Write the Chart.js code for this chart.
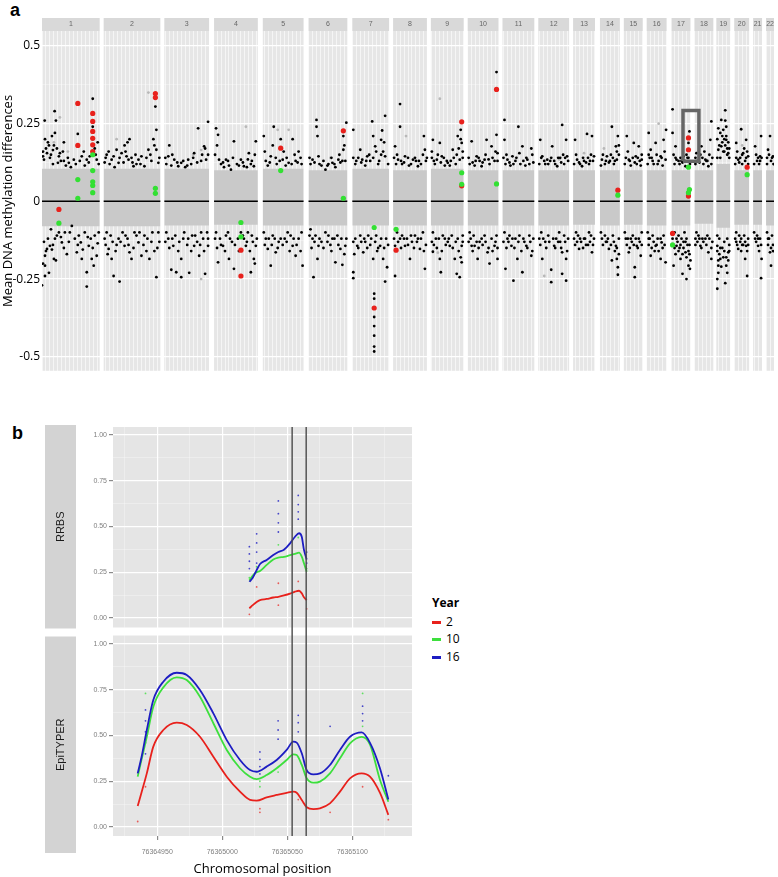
<!DOCTYPE html>
<html>
<head>
<meta charset="utf-8">
<script src="https://cdn.jsdelivr.net/npm/chart.js@4.4.1/dist/chart.umd.min.js"></script>
<style>
  html, body { margin: 0; padding: 0; background: #fff; }
  body { width: 778px; height: 877px; position: relative; overflow: hidden; font-family: "Open Sans", sans-serif; }
  canvas { position: absolute; left: 0; }
  #chartA { top: 0; }
  #chartB { top: 400px; }
  .letter { position: absolute; font: bold 18px "Liberation Sans", Arial, sans-serif; line-height: 18px; }
  #legend { position: absolute; left: 432px; top: 594px; font-size: 12px; line-height: 17.5px; color: #000; }
  #legend .title { font-weight: bold; margin-bottom: 1px; }
  #legend .key { display: inline-block; width: 9px; height: 3px; vertical-align: middle; margin-right: 5px; }
</style>
</head>
<body>
<div class="letter" style="left:10px;top:1px;">a</div>
<div class="letter" style="left:12px;top:424px;">b</div>
<canvas id="chartA" width="778" height="380"></canvas>
<canvas id="chartB" width="420" height="477"></canvas>
<div id="legend">
  <div class="title">Year</div>
  <div><span class="key" style="background:#e8211c"></span>2</div>
  <div><span class="key" style="background:#3ddf3d"></span>10</div>
  <div><span class="key" style="background:#1d1dc2"></span>16</div>
</div>
<script>
// ---------- Panel a data ----------
const chrNames = ['1','2','3','4','5','6','7','8','9','10','11','12','13','14','15','16','17','18','19','20','21','22'];
const chrStart = [0, 62, 123, 173, 222, 268, 312, 353, 391, 428, 463, 499, 534, 561, 585, 608, 633, 656, 678, 696, 715, 728];
const chrEnd   = [58, 119, 168, 217, 263, 307, 349, 387, 424, 459, 495, 530, 556, 581, 604, 628, 652, 675, 692, 711, 724, 736];
// dense cloud of non-significant probes (upper / lower edge)
const cloudHi = [0.105, 0.105, 0.105, 0.1, 0.105, 0.1, 0.105, 0.1, 0.105, 0.1, 0.1, 0.1, 0.1, 0.1, 0.1, 0.1, 0.1, 0.1, 0.12, 0.1, 0.1, 0.1];
const cloudLo = [-0.08, -0.08, -0.078, -0.075, -0.078, -0.078, -0.078, -0.078, -0.078, -0.078, -0.078, -0.078, -0.075, -0.078, -0.075, -0.078, -0.078, -0.072, -0.085, -0.075, -0.075, -0.078];

const blackPts = [
  // chr1
  [2.7,0.26],[12.7,0.29],[14,0.26],[3,0.2],[7,0.18],[10,0.21],[13,0.22],[12,0.18],[15,0.17],[5,0.155],[2,0.134],[8,0.14],[18,0.155],[22,0.19],[22,0.13],[27,0.124],[36,0.217],[40,0.145],[45,0.134],[51,0.33],[51,0.24],[51,0.2],[53,0.17],[55,0.134],[48,0.145],[32,0.134],[16,0.124],
  [4,0.17],[9,0.15],[19,0.13],[11,0.12],[24,0.115],[29,0.11],[34,0.12],[43,0.115],[57,0.12],[1,0.145],
  [1,0.16],[6,0.19],[11,0.165],[17,0.145],[21,0.16],[26,0.14],[38,0.13],[42,0.16],[47,0.125],[54,0.15],[56,0.19],
  [0,-0.27],[3,-0.24],[7,-0.23],[3,-0.207],[3,-0.175],[5,-0.153],[8,-0.143],[12,-0.185],[13,-0.12],[17,-0.1],[20,-0.132],[25,-0.17],[23,-0.1],[35,-0.164],[37,-0.11],[40,-0.185],[39,-0.132],[45,-0.228],[45,-0.274],[47,-0.143],[50,-0.185],[53,-0.11],[55,-0.175],[52,-0.207],[30,-0.079],[9,-0.09],
  [1,-0.2],[6,-0.12],[10,-0.155],[15,-0.11],[28,-0.1],[33,-0.12],[43,-0.1],[49,-0.12],[57,-0.1],[2,-0.13],
  [4,-0.16],[11,-0.14],[14,-0.19],[19,-0.115],[22,-0.15],[27,-0.13],[36,-0.14],[41,-0.155],[46,-0.115],[51,-0.15],[56,-0.135],
  // chr2
  [65,0.15],[70,0.134],[75,0.166],[80,0.155],[83,0.18],[88,0.2],[87,0.134],[92,0.113],[97,0.134],[100,0.145],[107,0.166],[112,0.2],[114,0.305],[115,0.23],[115,0.166],[117,0.124],[77,0.124],[85,0.145],[103,0.113],
  [68,0.12],[73,0.11],[82,0.125],[90,0.14],[95,0.12],[110,0.13],[63,0.125],[118,0.14],
  [64,0.14],[67,0.16],[72,0.145],[78,0.14],[84,0.16],[86,0.19],[91,0.125],[94,0.15],[99,0.12],[105,0.14],[109,0.15],[113,0.18],
  [65,-0.1],[67,-0.153],[70,-0.185],[72,-0.24],[78,-0.258],[77,-0.12],[83,-0.143],[88,-0.164],[93,-0.1],[97,-0.132],[100,-0.175],[103,-0.11],[108,-0.185],[113,-0.16],[115,-0.244],[117,-0.1],[90,-0.185],
  [63,-0.12],[69,-0.11],[75,-0.14],[81,-0.1],[86,-0.12],[95,-0.11],[106,-0.12],[111,-0.1],[118,-0.13],
  [64,-0.14],[66,-0.17],[71,-0.13],[74,-0.16],[79,-0.13],[84,-0.11],[87,-0.14],[92,-0.15],[98,-0.1],[102,-0.14],[105,-0.16],[110,-0.13],[116,-0.15],
  // chr3
  [128,0.18],[127,0.145],[133,0.134],[140,0.124],[147,0.134],[153,0.155],[157,0.235],[163,0.177],[167,0.256],[165,0.134],[137,0.113],
  [125,0.12],[130,0.115],[144,0.11],[150,0.12],[160,0.13],[167,0.15],
  [124,0.14],[131,0.15],[136,0.125],[142,0.13],[146,0.115],[152,0.14],[156,0.125],[161,0.15],[164,0.17],
  [125,-0.1],[130,-0.22],[135,-0.228],[140,-0.185],[140,-0.244],[148,-0.23],[147,-0.12],[153,-0.143],[158,-0.175],[164,-0.233],[167,-0.143],[132,-0.143],[160,-0.1],
  [127,-0.12],[134,-0.11],[138,-0.13],[143,-0.1],[151,-0.11],[156,-0.13],[162,-0.12],[166,-0.1],
  [124,-0.13],[128,-0.15],[131,-0.12],[137,-0.16],[142,-0.12],[146,-0.14],[150,-0.16],[154,-0.11],[159,-0.14],[163,-0.16],[167,-0.12],
  // chr4
  [175,0.235],[177,0.214],[178,0.134],[185,0.134],[193,0.193],[200,0.134],[203,0.113],[208,0.155],[215,0.193],[213,0.113],[190,0.102],
  [180,0.12],[188,0.115],[196,0.12],[206,0.11],[211,0.13],[183,0.11],
  [174,0.15],[176,0.18],[182,0.125],[187,0.13],[192,0.14],[198,0.115],[202,0.125],[207,0.135],[210,0.12],[214,0.15],
  [175,-0.1],[177,-0.196],[182,-0.143],[188,-0.185],[193,-0.217],[197,-0.12],[205,-0.143],[210,-0.228],[213,-0.185],[215,-0.143],[187,-0.1],[207,-0.1],
  [179,-0.12],[185,-0.11],[191,-0.13],[200,-0.1],[203,-0.12],[211,-0.11],[216,-0.12],
  [174,-0.12],[176,-0.15],[180,-0.14],[184,-0.16],[189,-0.12],[194,-0.14],[198,-0.16],[202,-0.11],[206,-0.13],[209,-0.16],[212,-0.13],[214,-0.2],
  // chr5
  [223,0.21],[233,0.24],[240,0.2],[230,0.145],[252,0.2],[258,0.16],[248,0.124],[242,0.134],
  [225,0.13],[236,0.12],[245,0.115],[255,0.13],[261,0.12],[227,0.115],
  [224,0.16],[229,0.125],[232,0.18],[235,0.14],[239,0.13],[243,0.16],[246,0.14],[251,0.12],[254,0.15],[257,0.125],[260,0.14],
  [223,-0.1],[227,-0.153],[230,-0.207],[235,-0.164],[240,-0.12],[252,-0.143],[255,-0.175],[262,-0.207],[247,-0.1],
  [225,-0.12],[232,-0.11],[238,-0.13],[244,-0.12],[250,-0.11],[258,-0.12],[261,-0.1],
  [224,-0.14],[228,-0.12],[231,-0.14],[234,-0.12],[237,-0.15],[242,-0.14],[246,-0.13],[249,-0.16],[253,-0.12],[256,-0.14],[260,-0.16],
  // chr6
  [276,0.262],[276,0.24],[277,0.21],[278,0.145],[272,0.134],[285,0.102],[292,0.124],[298,0.134],[303,0.21],[306,0.253],[303,0.166],
  [270,0.12],[281,0.115],[288,0.12],[295,0.11],[300,0.125],[305,0.13],
  [269,0.14],[274,0.125],[279,0.12],[283,0.13],[287,0.115],[291,0.14],[294,0.12],[299,0.15],[302,0.13],[304,0.18],
  [270,-0.09],[273,-0.244],[277,-0.185],[278,-0.143],[285,-0.1],[292,-0.12],[295,-0.196],[300,-0.153],[302,-0.204],[305,-0.143],
  [272,-0.12],[275,-0.11],[281,-0.13],[288,-0.11],[290,-0.14],[297,-0.11],[306,-0.12],
  [269,-0.11],[271,-0.15],[274,-0.13],[279,-0.12],[283,-0.15],[287,-0.13],[291,-0.16],[294,-0.12],[298,-0.14],[301,-0.12],[304,-0.17],
  // chr7
  [313,0.23],[320,0.166],[327,0.145],[332,0.257],[333,0.21],[335,0.177],[341,0.198],[342,0.228],[345,0.275],[345,0.145],[322,0.134],
  [315,0.12],[318,0.14],[325,0.115],[330,0.13],[338,0.12],[343,0.16],[348,0.12],
  [313,0.14],[316,0.13],[321,0.125],[326,0.13],[329,0.15],[333,0.14],[336,0.16],[339,0.13],[341,0.15],[344,0.19],
  [313,-0.228],[313,-0.247],[317,-0.143],[323,-0.164],[328,-0.11],[333,-0.185],[340,-0.143],[343,-0.185],[345,-0.258],[347,-0.212],
  [334,-0.297],[334,-0.313],[334,-0.372],[334,-0.401],[334,-0.432],[334,-0.467],[334,-0.483],
  [315,-0.12],[320,-0.11],[325,-0.13],[331,-0.12],[336,-0.11],[338,-0.15],[346,-0.12],
  [313,-0.13],[314,-0.17],[318,-0.15],[321,-0.13],[324,-0.12],[327,-0.15],[330,-0.14],[335,-0.13],[337,-0.16],[341,-0.12],[344,-0.15],[348,-0.14],
  // chr8
  [360,0.313],[360,0.24],[358,0.134],[355,0.177],[365,0.145],[373,0.134],[378,0.113],[384,0.21],[385,0.166],
  [356,0.12],[362,0.12],[369,0.115],[376,0.13],[381,0.12],[386,0.13],
  [354,0.14],[357,0.15],[361,0.13],[364,0.125],[368,0.14],[371,0.12],[375,0.14],[379,0.13],[383,0.15],[387,0.14],
  [355,-0.143],[355,-0.24],[360,-0.12],[365,-0.143],[370,-0.185],[375,-0.11],[380,-0.153],[385,-0.217],[383,-0.1],
  [357,-0.1],[362,-0.11],[367,-0.12],[372,-0.13],[378,-0.12],[386,-0.14],
  [354,-0.12],[358,-0.13],[361,-0.15],[364,-0.12],[368,-0.14],[371,-0.11],[374,-0.15],[377,-0.13],[381,-0.12],[384,-0.16],
  // chr9
  [393,0.198],[397,0.134],[400,0.188],[402,0.145],[408,0.124],[413,0.166],[418,0.21],[421,0.23],[422,0.188],[420,0.134],
  [395,0.12],[405,0.115],[411,0.13],[416,0.12],[423,0.16],[392,0.14],
  [392,0.16],[394,0.13],[398,0.15],[401,0.125],[404,0.14],[407,0.13],[410,0.115],[414,0.14],[417,0.15],[419,0.17],[421,0.2],[423,0.14],
  [393,-0.1],[393,-0.162],[400,-0.185],[401,-0.228],[405,-0.12],[410,-0.143],[415,-0.185],[417,-0.233],[420,-0.244],[422,-0.143],[422,-0.196],
  [396,-0.12],[403,-0.11],[408,-0.13],[412,-0.11],[418,-0.12],[423,-0.11],
  [392,-0.13],[394,-0.14],[397,-0.15],[399,-0.12],[402,-0.16],[406,-0.14],[409,-0.12],[413,-0.15],[416,-0.13],[419,-0.16],[421,-0.18],[423,-0.13],
  // chr10
  [432,0.193],[437,0.145],[442,0.113],[447,0.198],[452,0.177],[457,0.416],[457,0.214],[458,0.155],[445,0.134],
  [430,0.12],[435,0.115],[440,0.13],[450,0.12],[455,0.13],
  [429,0.14],[433,0.125],[436,0.13],[439,0.14],[443,0.125],[446,0.15],[449,0.135],[453,0.14],[456,0.16],[458,0.13],
  [430,-0.1],[432,-0.143],[438,-0.185],[442,-0.12],[448,-0.164],[450,-0.2],[455,-0.143],[458,-0.185],[435,-0.143],
  [434,-0.11],[440,-0.13],[445,-0.11],[452,-0.12],[457,-0.11],
  [429,-0.13],[431,-0.12],[433,-0.16],[437,-0.13],[439,-0.15],[443,-0.14],[446,-0.13],[449,-0.15],[453,-0.16],[456,-0.13],[458,-0.15],
  // chr11
  [465,0.262],[465,0.198],[468,0.134],[473,0.145],[479,0.24],[483,0.177],[488,0.134],[492,0.17],
  [466,0.12],[471,0.115],[476,0.13],[481,0.12],[486,0.115],[494,0.125],
  [464,0.14],[467,0.15],[470,0.125],[474,0.12],[477,0.14],[480,0.155],[484,0.13],[487,0.14],[490,0.12],[493,0.15],
  [465,-0.1],[466,-0.217],[472,-0.143],[474,-0.255],[478,-0.185],[483,-0.228],[487,-0.143],[492,-0.175],
  [468,-0.12],[470,-0.11],[476,-0.12],[480,-0.11],[485,-0.13],[490,-0.11],[494,-0.12],
  [464,-0.13],[467,-0.15],[469,-0.13],[473,-0.12],[475,-0.15],[479,-0.13],[482,-0.16],[484,-0.12],[488,-0.15],[491,-0.13],[493,-0.16],
  // chr12
  [501,0.198],[503,0.145],[508,0.134],[513,0.177],[518,0.113],[523,0.246],[527,0.198],[528,0.145],
  [500,0.12],[506,0.12],[511,0.13],[516,0.12],[521,0.14],[525,0.12],[529,0.13],
  [502,0.14],[505,0.13],[509,0.12],[512,0.14],[515,0.13],[519,0.14],[522,0.125],[524,0.15],[526,0.14],
  [500,-0.12],[503,-0.185],[512,-0.22],[512,-0.26],[515,-0.143],[520,-0.1],[523,-0.164],[523,-0.233],[527,-0.255],[527,-0.185],
  [502,-0.1],[506,-0.13],[509,-0.11],[517,-0.12],[521,-0.13],[525,-0.11],[529,-0.12],
  [501,-0.14],[504,-0.12],[507,-0.15],[510,-0.13],[514,-0.12],[516,-0.15],[519,-0.13],[522,-0.15],[526,-0.13],[528,-0.16],
  // chr13
  [536,0.198],[538,0.134],[543,0.113],[548,0.217],[553,0.21],[555,0.145],
  [535,0.12],[540,0.125],[545,0.13],[550,0.12],[552,0.15],
  [537,0.15],[541,0.12],[544,0.14],[547,0.125],[549,0.14],[551,0.13],[554,0.13],
  [537,-0.1],[540,-0.153],[545,-0.12],[550,-0.1],[553,-0.164],[555,-0.12],
  [535,-0.12],[539,-0.11],[542,-0.13],[547,-0.14],[552,-0.11],
  [536,-0.14],[538,-0.13],[541,-0.12],[544,-0.15],[546,-0.12],[549,-0.14],[551,-0.13],[554,-0.14],
  // chr14
  [563,0.134],[568,0.145],[573,0.24],[577,0.177],[579,0.21],[578,0.134],
  [562,0.115],[566,0.12],[571,0.13],[575,0.12],[580,0.15],
  [564,0.15],[567,0.13],[570,0.125],[572,0.15],[574,0.14],[576,0.13],[578,0.16],[580,0.18],
  [563,-0.12],[570,-0.153],[573,-0.19],[578,-0.185],[579,-0.212],[579,-0.236],[577,-0.143],
  [562,-0.1],[566,-0.11],[568,-0.13],[574,-0.11],[580,-0.12],
  [564,-0.14],[567,-0.13],[569,-0.12],[572,-0.14],[575,-0.13],[576,-0.16],[578,-0.15],[580,-0.17],
  // chr15
  [588,0.21],[590,0.134],[595,0.188],[597,0.145],[600,0.177],[603,0.134],
  [586,0.12],[592,0.115],[598,0.12],[602,0.115],
  [587,0.14],[589,0.16],[591,0.13],[594,0.14],[596,0.125],[599,0.14],[601,0.13],[603,0.15],
  [587,-0.12],[590,-0.164],[596,-0.212],[596,-0.244],[598,-0.143],[602,-0.175],
  [586,-0.1],[592,-0.12],[594,-0.11],[600,-0.12],[603,-0.1],
  [588,-0.14],[589,-0.12],[591,-0.15],[593,-0.13],[595,-0.14],[597,-0.12],[599,-0.15],[601,-0.13],[603,-0.14],
  // chr16
  [610,0.22],[612,0.166],[617,0.188],[622,0.145],[625,0.198],[627.5,0.23],[627,0.134],
  [609,0.12],[614,0.13],[619,0.12],[624,0.115],[611,0.14],
  [610,0.15],[613,0.14],[615,0.12],[618,0.15],[620,0.13],[623,0.14],[626,0.16],
  [610,-0.12],[612,-0.175],[617,-0.143],[622,-0.185],[623,-0.132],[627,-0.196],
  [609,-0.1],[614,-0.11],[619,-0.12],[625,-0.11],[616,-0.16],
  [610,-0.14],[611,-0.12],[613,-0.15],[615,-0.13],[618,-0.14],[620,-0.16],[622,-0.12],[624,-0.15],[626,-0.14],
  // chr17
  [634,0.296],[634,0.22],[637,0.177],[638,0.134],[645,0.145],[651,0.225],[650,0.188],[647,0.113],
  [636,0.12],[641,0.12],[643,0.13],[649,0.14],[651.5,0.12],
  [635,0.15],[637,0.14],[640,0.13],[642,0.14],[644,0.125],[646,0.13],[648,0.15],[650,0.14],
  [635,-0.207],[638,-0.143],[642,-0.185],[644,-0.233],[647,-0.164],[648,-0.25],[650,-0.207],[651.5,-0.217],[643,-0.12],[648,-0.12],
  [636,-0.1],[640,-0.11],[641,-0.15],[645,-0.13],[646,-0.1],[649,-0.14],[651,-0.17],[639,-0.13],
  [634,-0.12],[636,-0.15],[637,-0.17],[638,-0.12],[640,-0.16],[642,-0.14],[644,-0.17],[645,-0.15],[647,-0.13],[648,-0.18],[650,-0.16],[651,-0.14],[652,-0.19],
  // chr18
  [658,0.155],[663,0.177],[667,0.134],[673,0.257],[672,0.198],[670,0.113],
  [657,0.12],[661,0.125],[665,0.12],[669,0.13],[674,0.14],
  [657,0.14],[659,0.13],[662,0.15],[664,0.14],[666,0.16],[668,0.13],[671,0.15],[673,0.12],
  [658,-0.1],[662,-0.143],[667,-0.12],[670,-0.164],[673,-0.185],
  [657,-0.12],[660,-0.11],[664,-0.12],[669,-0.11],[674,-0.13],
  [657,-0.14],[659,-0.13],[661,-0.12],[663,-0.15],[665,-0.13],[668,-0.14],[671,-0.12],[673,-0.15],
  // chr19
  [680,0.235],[683,0.262],[687,0.293],[688,0.24],[688,0.198],[683,0.177],[690,0.155],[680,0.166],
  [679,0.14],[682,0.14],[685,0.16],[686,0.2],[689,0.17],[691,0.14],[684,0.21],[687,0.26],
  [679,0.2],[681,0.18],[682,0.22],[684,0.19],[685,0.23],[687,0.18],[688,0.21],[689,0.15],[690,0.19],[691,0.17],[686,0.16],
  [679,-0.143],[680,-0.207],[679,-0.25],[679,-0.281],[682,-0.185],[687,-0.263],[688,-0.207],[690,-0.164],
  [679,-0.11],[681,-0.12],[684,-0.15],[686,-0.13],[689,-0.12],[691,-0.14],[680,-0.23],
  [679,-0.16],[680,-0.19],[681,-0.17],[682,-0.15],[683,-0.21],[685,-0.18],[686,-0.16],[688,-0.18],[689,-0.23],[690,-0.19],[691,-0.16],
  // chr20
  [698,0.188],[700,0.134],[703,0.232],[705,0.155],[708,0.198],[710,0.145],
  [697,0.12],[701,0.125],[704,0.12],[707,0.13],[710,0.12],
  [698,0.14],[699,0.16],[702,0.14],[704,0.15],[706,0.17],[708,0.14],[709,0.16],
  [698,-0.1],[700,-0.153],[703,-0.12],[707,-0.185],[709,-0.24],[708,-0.143],
  [697,-0.12],[701,-0.11],[704,-0.14],[706,-0.11],[710,-0.12],
  [698,-0.13],[699,-0.14],[702,-0.13],[703,-0.16],[705,-0.14],[707,-0.13],[709,-0.16],[710,-0.14],
  // chr21
  [717,0.177],[723,0.21],[722,0.145],[716,0.12],[719,0.13],[721,0.12],[723.5,0.14],[718,0.15],[720,0.14],[722,0.13],
  [717,-0.12],[720,-0.143],[723,-0.247],[723.5,-0.185],[716,-0.1],[719,-0.11],[722,-0.12],[718,-0.13],[720,-0.12],[721,-0.16],[723,-0.14],
  // chr22
  [732,0.21],[730,0.166],[735,0.145],[729,0.12],[733,0.13],[735.5,0.12],[729,0.14],[731,0.15],[734,0.14],
  [730,-0.12],[732,-0.164],[733,-0.207],[729,-0.1],[734,-0.11],[735,-0.14],[730,-0.14],[731,-0.12],[733,-0.15],[735,-0.16]
];
const greyPts = [[18,0.27],[12,0.19],[26,0.16],[107,0.35],[75,0.2],[152,0.15],[160,0.165],[205,0.24],[237,0.23],[248,0.23],
  [290,0.14],[400,0.33],[366,0.21],[520,0.135],[545,0.155],[565,0.17],[620,0.25],[660,0.16],[704,0.18],[160,-0.25],[398,-0.165],[505,-0.24]];
const redPts = [[36,0.315],[36,0.18],[51,0.283],[51,0.257],[51,0.225],[51,0.203],[51,0.182],[51,0.16],[17,-0.026],
  [114,0.347],[114,0.334],[200,-0.157],[200,-0.24],[240,0.171],[303,0.227],[334,-0.343],[356,-0.157],
  [422,0.256],[422,0.05],[457,0.36],[579,0.036],[634,-0.103],[650,0.204],[650,0.166],[650,0.017],[709,0.11]];
const greenPts = [[51,0.15],[51,0.099],[51,0.063],[51,0.051],[51,0.028],[36,0.07],[36,0.01],[17,-0.07],
  [114,0.042],[114,0.026],[200,-0.068],[200,-0.114],[240,0.099],[303,0.01],[334,-0.084],[356,-0.09],
  [422,0.092],[422,0.055],[457,0.056],[579,0.02],[634,-0.14],[650,0.11],[651,0.038],[650,0.028],[709,0.086]];
const boxX = [644.5, 660.5];
const boxY = [0.129, 0.292];

// ---------- Panel b data ----------
const rrbsPos = [76365020.9, 76365023.5, 76365026.5, 76365029.1, 76365034.2, 76365039.3, 76365043.2, 76365047.5, 76365052.2, 76365056, 76365059.1, 76365061.2, 76365062.9, 76365065];
const rrbsY2  = [0.053, 0.07, 0.088, 0.098, 0.104, 0.112, 0.116, 0.123, 0.133, 0.144, 0.149, 0.135, 0.113, 0.098];
const rrbsY10 = [0.205, 0.232, 0.25, 0.257, 0.29, 0.32, 0.33, 0.334, 0.343, 0.35, 0.357, 0.335, 0.299, 0.253];
const rrbsY16 = [0.198, 0.22, 0.262, 0.295, 0.317, 0.344, 0.361, 0.373, 0.408, 0.444, 0.463, 0.444, 0.372, 0.32];

const epiPos = [76364935, 76364938, 76364942, 76364947, 76364954.7, 76364965, 76364972.7, 76364982.9, 76364993.2, 76365003.5,
  76365013.7, 76365021.4, 76365026.5, 76365034.2, 76365041.9, 76365049.6, 76365054.7, 76365057.3, 76365061.2, 76365065,
  76365070.1, 76365075.2, 76365082.9, 76365090.6, 76365098.3, 76365107.3, 76365113.7, 76365121.4, 76365127.8];
const epiY2  = [0.115, 0.19, 0.293, 0.439, 0.53, 0.57, 0.557, 0.493, 0.384, 0.275, 0.193, 0.148, 0.144, 0.162, 0.175, 0.187, 0.193, 0.187, 0.148, 0.108, 0.098, 0.102, 0.129, 0.193, 0.266, 0.293, 0.275, 0.186, 0.066];
const epiY10 = [0.275, 0.37, 0.493, 0.657, 0.763, 0.818, 0.803, 0.712, 0.567, 0.421, 0.321, 0.275, 0.262, 0.284, 0.321, 0.366, 0.397, 0.393, 0.339, 0.266, 0.242, 0.248, 0.293, 0.375, 0.457, 0.493, 0.45, 0.257, 0.138];
const epiY16 = [0.293, 0.384, 0.53, 0.694, 0.794, 0.843, 0.831, 0.749, 0.621, 0.475, 0.366, 0.311, 0.302, 0.33, 0.366, 0.421, 0.466, 0.461, 0.403, 0.311, 0.288, 0.293, 0.339, 0.421, 0.493, 0.517, 0.46, 0.32, 0.15];

// raw measurements [position, value]
const rrbsRaw2  = [[76365020.9,0.02],[76365026.5,0.17],[76365043.2,0.07],[76365043.2,0.19],[76365058.5,0.2],[76365065,0.05]];
const rrbsRaw10 = [[76365020.9,0.22],[76365026.5,0.28],[76365043.2,0.4],[76365058.5,0.44],[76365065,0.27]];
const rrbsRaw16 = [[76365020.9,0.27],[76365020.9,0.31],[76365020.9,0.35],[76365020.9,0.39],[76365026.5,0.3],[76365026.5,0.36],[76365026.5,0.41],[76365026.5,0.46],
  [76365043.2,0.47],[76365043.2,0.52],[76365043.2,0.57],[76365043.2,0.64],[76365058.5,0.54],[76365058.5,0.58],[76365058.5,0.62],[76365058.5,0.67],[76365065,0.3],[76365065,0.36]];
const epiRaw2  = [[76364935,0.03],[76364941,0.22],[76365029,0.08],[76365029,0.1],[76365058.5,0.15],[76365083,0.08],[76365108,0.22],[76365127.8,0.04]];
const epiRaw10 = [[76364941,0.73],[76365029,0.22],[76365029,0.25],[76365043,0.3],[76365108,0.73],[76365108,0.55]];
const epiRaw16 = [[76364941,0.4],[76364941,0.46],[76364941,0.52],[76364941,0.58],[76364941,0.64],[76365029,0.29],[76365029,0.33],[76365029,0.37],[76365029,0.41],
  [76365043,0.48],[76365043,0.53],[76365043,0.58],[76365058.5,0.52],[76365058.5,0.57],[76365058.5,0.61],[76365083,0.55],[76365108,0.58],[76365108,0.62],[76365108,0.66],[76365127.8,0.28]];
const markLines = [76365053.8, 76365064.6];

const RED = '#e8211c', GREEN = '#3ddf3d', BLUE = '#1d1dc2';

function near(v, step) { return Math.abs(v / step - Math.round(v / step)) < 1e-6; }
const toXY = arr => arr.map(p => ({x: p[0], y: p[1]}));

// ---------- Panel a ----------
const facetPlugin = {
  id: 'facets',
  beforeDraw(chart) {
    const {ctx, chartArea, scales: {x}} = chart;
    ctx.save();
    chrNames.forEach((name, i) => {
      const x0 = x.getPixelForValue(chrStart[i]);
      const x1 = x.getPixelForValue(chrEnd[i]);
      ctx.fillStyle = '#e6e6e6';
      ctx.fillRect(x0, chartArea.top, x1 - x0, chartArea.bottom - chartArea.top);
      ctx.fillStyle = '#d9d9d9';
      ctx.fillRect(x0, chartArea.top - 13, x1 - x0, 13);
      ctx.fillStyle = '#666';
      ctx.font = '7px "Liberation Sans"';
      ctx.textAlign = 'center';
      ctx.textBaseline = 'middle';
      ctx.fillText(name, (x0 + x1) / 2, chartArea.top - 6.5);
    });
    ctx.restore();
  }
};

const dsA = [];
chrNames.forEach((n, i) => {
  dsA.push({type: 'line', data: [{x: chrStart[i], y: cloudHi[i]}, {x: chrEnd[i], y: cloudHi[i]}],
    borderWidth: 0, pointRadius: 0, backgroundColor: '#c9c9c9', fill: {value: cloudLo[i]}, order: 20});
  dsA.push({type: 'line', data: [{x: chrStart[i], y: 0}, {x: chrEnd[i], y: 0}],
    borderColor: '#000', borderWidth: 1.5, pointRadius: 0, fill: false, order: 15});
});
dsA.push({data: toXY(greyPts), backgroundColor: '#b8b8b8', pointRadius: 1.4, borderWidth: 0, order: 12});
dsA.push({data: toXY(blackPts), backgroundColor: '#000', pointRadius: 1.4, borderWidth: 0, order: 10});
dsA.push({data: toXY(redPts), backgroundColor: RED, pointRadius: 2.6, borderWidth: 0, order: 6});
dsA.push({data: toXY(greenPts), backgroundColor: '#33e033', pointRadius: 2.6, borderWidth: 0, order: 5});
dsA.push({type: 'line', data: [{x: boxX[0], y: boxY[0]}, {x: boxX[1], y: boxY[0]}, {x: boxX[1], y: boxY[1]}, {x: boxX[0], y: boxY[1]}, {x: boxX[0], y: boxY[0]}],
  borderColor: '#666', borderWidth: 3.5, pointRadius: 0, fill: false, tension: 0, order: 1});

new Chart(document.getElementById('chartA'), {
  type: 'scatter',
  data: {datasets: dsA},
  plugins: [facetPlugin],
  options: {
    responsive: false, animation: false, events: [],
    layout: {padding: {top: 31, bottom: 7, left: 0, right: 0}},
    plugins: {legend: {display: false}, tooltip: {enabled: false}},
    scales: {
      x: {
        type: 'linear', min: 0, max: 736,
        ticks: {display: false, stepSize: 4},
        grid: {color: 'rgba(255,255,255,0.6)', lineWidth: 1, drawTicks: false},
        border: {display: false},
        afterFit(s) { s.height = 0; }
      },
      y: {
        type: 'linear', min: -0.545, max: 0.548,
        ticks: {
          stepSize: 0.125, autoSkip: false, includeBounds: false, color: '#000', padding: 2,
          font: {family: '"Open Sans"', size: 12},
          callback: v => near(v, 0.25) ? String(Math.abs(v) < 1e-9 ? 0 : +v.toFixed(2)) : ''
        },
        grid: {
          drawTicks: false,
          color: c => !c.tick ? 'rgba(0,0,0,0)' : near(c.tick.value, 0.25) ? '#ffffff' : near(c.tick.value, 0.125) ? 'rgba(255,255,255,0.45)' : 'rgba(0,0,0,0)',
          lineWidth: c => c.tick && near(c.tick.value, 0.25) ? 1.3 : 0.7
        },
        border: {display: false},
        title: {display: true, text: 'Mean DNA methylation differences', color: '#000', font: {family: '"Open Sans"', size: 13}, padding: 0},
        afterFit(s) { s.width = 42; }
      }
    }
  }
});

// ---------- Panel b ----------
const panelBPlugin = {
  id: 'panelB',
  beforeDraw(chart) {
    const {ctx, chartArea: a, scales: {yR, yE}} = chart;
    ctx.save();
    ctx.fillStyle = '#e5e5e5';
    ctx.fillRect(a.left, yR.top, a.right - a.left, yR.bottom - 4 - yR.top);
    ctx.fillRect(a.left, yE.top + 4, a.right - a.left, yE.bottom - yE.top - 4);
    ctx.fillStyle = '#d3d3d3';
    ctx.fillRect(45, yR.top - 2, 31, yR.bottom - yR.top - 1);
    ctx.fillRect(45, yE.top + 5, 31, yE.bottom - yE.top + 12);
    ctx.fillStyle = '#1a1a1a';
    ctx.font = '11px "Liberation Sans"';
    ctx.textAlign = 'center';
    ctx.textBaseline = 'middle';
    [['RRBS', (yR.top - 2 + yR.bottom - 3) / 2], ['EpiTYPER', (yE.top + 5 + yE.bottom + 17) / 2]].forEach(([t, cy]) => {
      ctx.save();
      ctx.translate(60.5, cy);
      ctx.rotate(-Math.PI / 2);
      ctx.fillText(t, 0, 0);
      ctx.restore();
    });
    ctx.restore();
  },
  afterDatasetsDraw(chart) {
    const {ctx, chartArea: a, scales: {x}} = chart;
    ctx.save();
    ctx.strokeStyle = '#4a4a4a';
    ctx.lineWidth = 1.4;
    markLines.forEach(v => {
      const px = x.getPixelForValue(v);
      ctx.beginPath();
      ctx.moveTo(px, a.top);
      ctx.lineTo(px, a.bottom);
      ctx.stroke();
    });
    ctx.restore();
  }
};

const curve = (pos, vals, color, axis) => ({
  type: 'line', data: pos.map((p, i) => ({x: p, y: vals[i]})), yAxisID: axis,
  borderColor: color, borderWidth: 1.8, pointRadius: 0, fill: false, cubicInterpolationMode: 'monotone', order: 2
});
const raw = (pts, color, axis) => ({
  data: toXY(pts), yAxisID: axis, backgroundColor: color, pointRadius: 0.9, borderWidth: 0, order: 5
});

const yAxisB = (min, max, weight) => ({
  type: 'linear', position: 'left', stack: 'facet', stackWeight: 1, weight: weight, min: min, max: max,
  ticks: {
    stepSize: 0.125, autoSkip: false, includeBounds: false, color: '#7f7f7f', padding: 2,
    font: {family: '"Liberation Sans"', size: 7},
    callback: v => near(v, 0.25) && v > -0.01 ? v.toFixed(2) : ''
  },
  grid: {
    tickLength: 4,
    color: c => !c.tick ? 'rgba(0,0,0,0)' : near(c.tick.value, 0.25) ? '#ffffff' : near(c.tick.value, 0.125) ? 'rgba(255,255,255,0.5)' : 'rgba(0,0,0,0)',
    tickColor: c => c.tick && near(c.tick.value, 0.25) ? '#8a8a8a' : 'rgba(0,0,0,0)',
    lineWidth: c => c.tick && near(c.tick.value, 0.25) ? 1.2 : 0.6
  },
  border: {display: false},
  afterFit(s) { s.width = 113; }
});

new Chart(document.getElementById('chartB'), {
  type: 'scatter',
  data: {datasets: [
    curve(rrbsPos, rrbsY16, BLUE, 'yR'),
    curve(rrbsPos, rrbsY10, GREEN, 'yR'),
    curve(rrbsPos, rrbsY2, RED, 'yR'),
    curve(epiPos, epiY16, BLUE, 'yE'),
    curve(epiPos, epiY10, GREEN, 'yE'),
    curve(epiPos, epiY2, RED, 'yE'),
    raw(rrbsRaw16, 'rgba(29,29,194,0.8)', 'yR'),
    raw(rrbsRaw10, 'rgba(61,223,61,0.8)', 'yR'),
    raw(rrbsRaw2, 'rgba(232,33,28,0.7)', 'yR'),
    raw(epiRaw16, 'rgba(29,29,194,0.8)', 'yE'),
    raw(epiRaw10, 'rgba(61,223,61,0.8)', 'yE'),
    raw(epiRaw2, 'rgba(232,33,28,0.7)', 'yE')
  ]},
  plugins: [panelBPlugin],
  options: {
    responsive: false, animation: false, events: [],
    layout: {padding: {top: 27, right: 8, bottom: 0, left: 0}},
    plugins: {legend: {display: false}, tooltip: {enabled: false}},
    scales: {
      x: {
        type: 'linear', min: 76364916, max: 76365146,
        ticks: {
          stepSize: 25, autoSkip: false, includeBounds: false, maxRotation: 0, color: '#7f7f7f', padding: 8,
          font: {family: '"Liberation Sans"', size: 7},
          callback: v => near(v, 50) ? String(Math.round(v)) : ''
        },
        grid: {
          tickLength: 4,
          color: c => !c.tick ? 'rgba(0,0,0,0)' : near(c.tick.value, 50) ? '#ffffff' : near(c.tick.value, 25) ? 'rgba(255,255,255,0.5)' : 'rgba(0,0,0,0)',
          tickColor: c => c.tick && near(c.tick.value, 50) ? '#8a8a8a' : 'rgba(0,0,0,0)',
          lineWidth: c => c.tick && near(c.tick.value, 50) ? 1.2 : 0.6
        },
        border: {display: false},
        title: {display: true, text: 'Chromosomal position', color: '#000', font: {family: '"Open Sans"', size: 13}, padding: 0},
        afterFit(s) { s.height = 41; }
      },
      yR: yAxisB(-0.0738, 1.0437, 1),
      yE: yAxisB(-0.0492, 1.0683, 0)
    }
  }
});
</script>
</body>
</html>
